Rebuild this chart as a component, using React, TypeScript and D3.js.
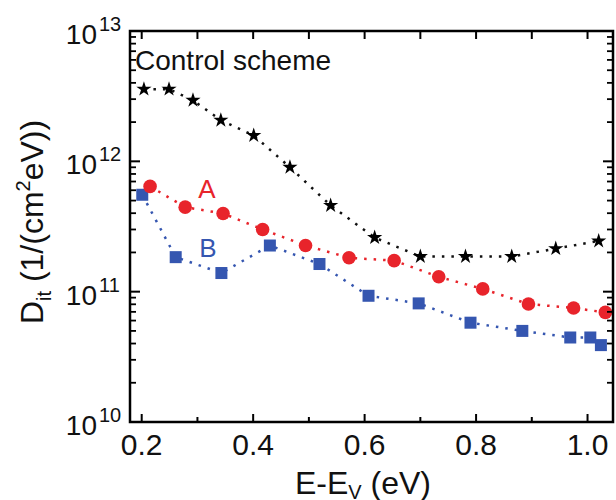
import React from "react";
import * as d3 from "d3";

const starE = [0.204, 0.249, 0.292, 0.342, 0.401, 0.466, 0.539, 0.618, 0.700, 0.781, 0.864, 0.943, 1.020];
const starD = [3.58e12, 3.58e12, 2.94e12, 2.07e12, 1.58e12, 9.0e11, 4.59e11, 2.6e11, 1.86e11, 1.86e11, 1.86e11, 2.14e11, 2.45e11];

const aE = [0.215, 0.278, 0.346, 0.417, 0.494, 0.572, 0.653, 0.733, 0.812, 0.894, 0.975, 1.032];
const aD = [6.42e11, 4.45e11, 3.98e11, 3.0e11, 2.26e11, 1.82e11, 1.73e11, 1.30e11, 1.05e11, 8.04e10, 7.5e10, 6.93e10];

const bE = [0.201, 0.261, 0.343, 0.430, 0.519, 0.607, 0.697, 0.790, 0.883, 0.969, 1.005, 1.024];
const bD = [5.54e11, 1.84e11, 1.39e11, 2.26e11, 1.63e11, 9.3e10, 8.13e10, 5.78e10, 5.0e10, 4.45e10, 4.45e10, 3.89e10];

const xTickLabels = ["0.2", "0.4", "0.6", "0.8", "1.0"];
const xMajor = [0.2, 0.4, 0.6, 0.8, 1.0];
const xMinor = [0.3, 0.5, 0.7, 0.9];
const yExponents = [10, 11, 12, 13];

const RED = "#e8242b";
const BLUE = "#3556b0";
const FONT = "'Liberation Sans', Arial, sans-serif";

export default function App() {
  const L = 130, R = 613, T = 31, B = 422;
  const x = d3.scaleLinear().domain([0.179, 1.0457]).range([L, R]);
  const y = d3.scaleLog().domain([1e10, 1e13]).range([B, T]);

  const line = d3.line<[number, number]>().x(d => x(d[0])).y(d => y(d[1]));
  const starPts = starE.map((e, i) => [e, starD[i]] as [number, number]);
  const aPts = aE.map((e, i) => [e, aD[i]] as [number, number]);
  const bPts = bE.map((e, i) => [e, bD[i]] as [number, number]);
  const starPath = d3.symbol(d3.symbolStar, 72)() as string;

  const minorY: number[] = [];
  for (let p = 10; p < 13; p++) for (let m = 2; m <= 9; m++) minorY.push(m * Math.pow(10, p));

  return (
    <svg width={616} height={500} style={{ position: "absolute", left: 0, top: 0, background: "#fff" }} fontFamily={FONT}>
      {/* lines */}
      <path d={line(starPts) as string} fill="none" stroke="#111" strokeWidth={2.5} strokeDasharray="2.5 7" />
      <path d={line(aPts) as string} fill="none" stroke={RED} strokeWidth={2.5} strokeDasharray="2.5 7" />
      <path d={line(bPts) as string} fill="none" stroke={BLUE} strokeWidth={2.5} strokeDasharray="2.5 7" />

      {/* markers */}
      {bPts.map((d, i) => (
        <rect key={"b" + i} x={x(d[0]) - 6} y={y(d[1]) - 6} width={12} height={12} fill={BLUE} />
      ))}
      {aPts.map((d, i) => (
        <circle key={"a" + i} cx={x(d[0])} cy={y(d[1])} r={6.8} fill={RED} />
      ))}
      {starPts.map((d, i) => (
        <path key={"s" + i} d={starPath} transform={`translate(${x(d[0])},${y(d[1])})`} fill="#000" />
      ))}

      {/* frame */}
      <rect x={L} y={T} width={R - L} height={B - T} fill="none" stroke="#000" strokeWidth={2.5} />

      {/* x ticks */}
      {xMajor.map((v, i) => (
        <g key={"xm" + i}>
          <line x1={x(v)} x2={x(v)} y1={B} y2={B - 8} stroke="#000" strokeWidth={2} />
          <line x1={x(v)} x2={x(v)} y1={T} y2={T + 8} stroke="#000" strokeWidth={2} />
          <text x={x(v)} y={455} fontSize={30} textAnchor="middle" fill="#111">{xTickLabels[i]}</text>
        </g>
      ))}
      {xMinor.map((v, i) => (
        <g key={"xn" + i}>
          <line x1={x(v)} x2={x(v)} y1={B} y2={B - 5} stroke="#000" strokeWidth={2} />
          <line x1={x(v)} x2={x(v)} y1={T} y2={T + 8} stroke="#000" strokeWidth={2} />
        </g>
      ))}

      {/* y ticks */}
      {yExponents.map((p) => {
        const yy = y(Math.pow(10, p));
        return (
          <g key={"ym" + p}>
            <line x1={L} x2={L + 10} y1={yy} y2={yy} stroke="#000" strokeWidth={2} />
            <line x1={R} x2={R - 10} y1={yy} y2={yy} stroke="#000" strokeWidth={2} />
            <text x={97} y={yy + 13} fontSize={28} textAnchor="end" fill="#111">10</text>
            <text x={99} y={yy} fontSize={20} textAnchor="start" fill="#111">{p}</text>
          </g>
        );
      })}
      {minorY.map((v, i) => (
        <g key={"yn" + i}>
          <line x1={L} x2={L + 6} y1={y(v)} y2={y(v)} stroke="#000" strokeWidth={1.8} />
          <line x1={R} x2={R - 6} y1={y(v)} y2={y(v)} stroke="#000" strokeWidth={1.8} />
        </g>
      ))}

      {/* annotations */}
      <text x={135} y={70} fontSize={28} fill="#111">Control scheme</text>
      <text x={207} y={198} fontSize={26} fill={RED} textAnchor="middle">A</text>
      <text x={208} y={257} fontSize={26} fill={BLUE} textAnchor="middle">B</text>

      {/* axis titles */}
      <text x={363} y={494} fontSize={32} textAnchor="middle" fill="#111">
        <tspan>E-E</tspan>
        <tspan fontSize={20} dy={5}>V</tspan>
        <tspan dy={-5}> (eV)</tspan>
      </text>
      <text transform="translate(43,222) rotate(-90)" fontSize={32} textAnchor="middle" fill="#111">
        <tspan>D</tspan>
        <tspan fontSize={20} dy={8}>it</tspan>
        <tspan dy={-8}> (1/(cm</tspan>
        <tspan fontSize={20} dy={-13}>2</tspan>
        <tspan dy={13}>eV))</tspan>
      </text>
    </svg>
  );
}
